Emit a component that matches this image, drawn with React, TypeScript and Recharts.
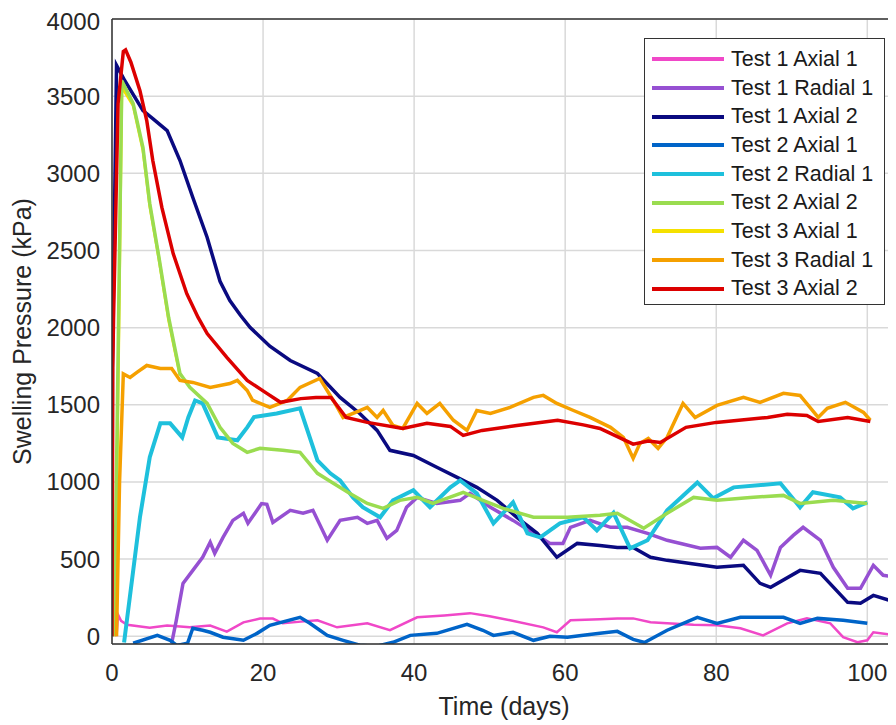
import React from 'react';
import { LineChart, Line, XAxis, YAxis, CartesianGrid, Legend, ReferenceLine } from 'recharts';

// [day, kPa] pairs
const test1Axial1 = [[0.6,0],[0.8,140],[1.2,100],[2,75],[5,55],[7.3,70],[10.3,58],[13,70],[15.2,30],[17.4,90],[19.6,115],[21.3,115],[22.6,84],[25,95],[27.2,104],[29.8,58],[33.8,84],[36.8,40],[40.4,123],[44,135],[47.4,150],[50,130],[52.7,104],[57.1,58],[58.9,26],[60.7,104],[64.6,110],[66.9,116],[69,116],[71.3,91],[73.5,84],[77,75],[80.1,71],[83.2,52],[86.2,6],[89.4,84],[92,116],[95.1,84],[96.8,-6],[98.7,-39],[100,-26],[100.8,26],[103.8,6]];
const test1Radial1 = [[7.9,-45],[8.5,100],[9.4,343],[10.7,427],[12,512],[13,609],[13.6,538],[14.7,641],[16,751],[17.4,797],[18,732],[19.2,816],[19.8,860],[20.5,855],[21.3,738],[23.6,816],[25.3,797],[26.6,816],[28.5,622],[30.2,751],[32.5,771],[33.8,732],[35.1,751],[36.4,635],[37.7,686],[39,836],[40.4,900],[43,861],[46.1,881],[47.4,926],[50.1,836],[53.1,751],[55.8,667],[58,602],[59.7,602],[60.7,706],[63.3,751],[66,706],[68.2,706],[70.9,667],[73.5,622],[77.9,570],[80.1,576],[81.9,512],[83.6,622],[85.4,557],[87.2,395],[88.5,576],[90.2,654],[91.5,706],[93.8,622],[95.5,447],[97.4,311],[99.1,311],[100.8,460],[102.1,395],[103.8,382]];
const test1Axial2 = [[0,0],[0.05,1740],[0.6,3700],[1.7,3600],[4.1,3406],[5.4,3355],[7.3,3277],[9,3083],[10.7,2843],[12.6,2584],[14.3,2300],[15.6,2176],[17,2080],[18.3,2001],[20.9,1880],[23.6,1787],[27.2,1703],[30.2,1548],[32.8,1444],[35.1,1334],[36.8,1205],[39.9,1172],[43,1095],[45.7,1030],[48.3,965],[51,881],[53.6,771],[56.3,667],[58.9,512],[61.6,602],[64.6,589],[66.9,576],[69,576],[71.3,512],[73.5,492],[80.1,447],[83.6,460],[85.8,343],[87.2,317],[91.1,427],[93.8,408],[97.4,220],[99.1,214],[100.8,265],[103.8,220]];
const test2Axial1 = [[2.8,-45],[6,6],[7.7,-26],[8.6,-60],[10,-45],[10.7,52],[12,39],[13,26],[14.7,-6],[17.4,-26],[19.2,19],[20.9,71],[24.9,123],[26.2,84],[28.5,6],[30.6,-26],[32.8,-58],[35,-65],[37.2,-39],[39.5,6],[43,19],[47,78],[49.1,39],[50.5,6],[53.1,26],[55.8,-26],[58,0],[60.3,-6],[62.4,6],[64.6,19],[66.9,32],[69,-20],[70.5,-40],[73.5,39],[77.5,123],[80.1,84],[83.2,123],[88.9,123],[91.1,84],[93.4,116],[96.8,104],[100,84]];
const test2Radial1 = [[1.6,-40],[3.7,771],[5,1160],[6.4,1380],[7.7,1380],[9.3,1289],[10.1,1418],[11,1528],[12,1509],[14,1289],[16.6,1270],[17.9,1354],[18.8,1420],[21.8,1444],[24.9,1477],[27.2,1140],[28.9,1056],[30.2,1010],[31.9,900],[33.2,836],[35.5,771],[37.2,881],[39.9,946],[42.1,836],[44.8,965],[46.1,1010],[48.3,926],[50.5,732],[53.1,868],[55,667],[56.7,641],[59.3,732],[62.4,771],[64.2,686],[66.4,800],[68.6,570],[70.9,622],[73.5,816],[77.5,997],[79.6,894],[82.3,965],[88.5,991],[91.1,836],[92.8,933],[96.4,900],[98.1,829],[100,868]];
const test2Axial2 = [[0.3,0],[1.3,3600],[2.8,3452],[4.1,3167],[5,2804],[6.2,2460],[7.5,2066],[9,1703],[10.3,1613],[12.6,1509],[14.3,1354],[16,1250],[17.9,1192],[19.6,1218],[22.6,1205],[24.9,1192],[27.2,1056],[29.3,991],[31.5,926],[33.8,861],[35.9,829],[38.1,881],[40.4,900],[42.5,861],[46.5,933],[49.1,881],[51.8,829],[55.8,771],[60.3,771],[64.6,784],[66.9,797],[70.4,700],[73.5,797],[77,900],[80.1,881],[84.5,900],[88.9,913],[91.1,861],[95.5,881],[100,861]];
const test3Axial1 = [[0.4,0],[1.3,3560],[2.8,3440],[4.1,3150],[5,2790],[6.2,2450],[7.5,2050],[9,1690]];
const test3Radial1 = [[0.6,0],[1.0,1000],[1.5,1700],[2.4,1677],[3.3,1710],[4.6,1755],[6.4,1736],[7.9,1736],[9,1658],[10.7,1645],[13,1613],[15.6,1638],[16.6,1658],[17.9,1593],[18.6,1530],[20.9,1483],[23.2,1528],[24.9,1613],[27.5,1671],[29.3,1528],[30.6,1418],[32.8,1463],[33.8,1483],[35.1,1418],[35.9,1463],[37.2,1366],[38.5,1347],[40.4,1509],[41.7,1444],[43.4,1509],[45.2,1400],[47,1334],[48.3,1463],[50.1,1444],[52.7,1483],[55.8,1548],[57.1,1561],[58.9,1509],[61.1,1463],[63.3,1418],[66,1354],[67.7,1289],[69,1153],[69.9,1250],[71,1282],[72.3,1218],[73.5,1289],[75.6,1509],[77.2,1418],[80.1,1496],[83.6,1548],[85.8,1516],[88.9,1574],[91.1,1561],[93.5,1418],[94.7,1477],[97.1,1516],[99.5,1451],[100.4,1400]];
const test3Axial2 = [[0,0],[0.1,1740],[0.2,2050],[0.8,3450],[1.5,3790],[1.8,3800],[2.5,3720],[3.7,3536],[4.6,3342],[5.4,3083],[6.6,2779],[8.1,2480],[9.9,2220],[11.4,2066],[12.6,1962],[15.2,1807],[17.9,1658],[20.5,1574],[22.3,1516],[25,1540],[27,1548],[29,1548],[31,1418],[33.8,1386],[38.5,1347],[41.7,1380],[44.8,1360],[46.5,1302],[49,1334],[53.6,1366],[59,1400],[62.4,1370],[64.6,1347],[66,1315],[69,1245],[71,1265],[72.6,1256],[76,1354],[80,1386],[86.8,1418],[89.4,1438],[92,1431],[93.5,1392],[97.4,1418],[100.4,1392]];

const xTicks = [0, 20, 40, 60, 80, 100];
const yTicks = [0, 500, 1000, 1500, 2000, 2500, 3000, 3500, 4000];

const series = [
  { name: 'Test 1 Axial 1', color: '#F048C8', width: 2.5, pts: test1Axial1 },
  { name: 'Test 1 Radial 1', color: '#9650D2', width: 3.5, pts: test1Radial1 },
  { name: 'Test 1 Axial 2', color: '#0A0A80', width: 3.5, pts: test1Axial2 },
  { name: 'Test 2 Axial 1', color: '#0064C8', width: 3.5, pts: test2Axial1 },
  { name: 'Test 2 Radial 1', color: '#1EC0DC', width: 4, pts: test2Radial1 },
  { name: 'Test 2 Axial 2', color: '#9ADC50', width: 3.5, pts: test2Axial2 },
  { name: 'Test 3 Axial 1', color: '#F5E100', width: 3, pts: test3Axial1 },
  { name: 'Test 3 Radial 1', color: '#F5A000', width: 3.5, pts: test3Radial1 },
  { name: 'Test 3 Axial 2', color: '#DC0000', width: 3.5, pts: test3Axial2 },
];

// yellow drawn first so it sits underneath like in the figure
const drawOrder = [6, 0, 1, 2, 3, 4, 5, 7, 8];

const font = '"Liberation Sans", Arial, sans-serif';
const textColor = '#262626';

const LegendBox = () => (
  <div style={{ border: '1.5px solid #333', background: '#fff', padding: '6px 0 6px 7px', fontFamily: font, boxSizing: 'border-box', width: 241, height: 267 }}>
    {series.map(s => (
      <div key={s.name} style={{ display: 'flex', alignItems: 'center', height: 28.7, whiteSpace: 'nowrap' }}>
        <div style={{ width: 72, height: 4, background: s.color, marginRight: 7, flexShrink: 0 }} />
        <span style={{ fontSize: 21.5, color: '#1a1a1a' }}>{s.name}</span>
      </div>
    ))}
  </div>
);

const YLabel = ({ viewBox }: any) => {
  const cx = 14;
  const cy = viewBox.y + viewBox.height / 2;
  return (
    <text x={cx} y={cy} transform={`rotate(-90 ${cx} ${cy})`} textAnchor="middle" dominantBaseline="central"
      fontSize={25} fontFamily={font} fill={textColor}>
      Swelling Pressure (kPa)
    </text>
  );
};

export default function App() {
  return (
    <LineChart width={888} height={717} margin={{ top: 11, right: 0, left: 0, bottom: 0 }}>
      <CartesianGrid stroke="#d9d9d9" strokeWidth={1.5} />
      <XAxis type="number" dataKey="d" domain={[0, 103.8]} ticks={xTicks} allowDataOverflow height={81}
        tickLine={false} tickSize={0} tickMargin={20} axisLine={{ stroke: '#333', strokeWidth: 1.5 }}
        tick={{ fontSize: 24, fontFamily: font, fill: textColor }}
        label={{ value: 'Time (days)', position: 'insideBottom', offset: 10, fontSize: 25, fontFamily: font, fill: textColor }} />
      <YAxis type="number" domain={[-50, 4000]} ticks={yTicks} allowDataOverflow width={104}
        tickLine={false} tickSize={0} tickMargin={12} axisLine={{ stroke: '#333', strokeWidth: 1.5 }}
        tick={{ fontSize: 24, fontFamily: font, fill: textColor }}
        label={<YLabel />} />
      <ReferenceLine y={4000} stroke="#333" strokeWidth={1.5} />
      {drawOrder.map(i => {
        const s = series[i];
        return (
          <Line key={s.name} data={s.pts.map(([d, v]) => ({ d, v }))} dataKey="v" name={s.name}
            type="linear" stroke={s.color} strokeWidth={s.width} dot={false} activeDot={false}
            isAnimationActive={false} />
        );
      })}
      <Legend layout="vertical" align="center" verticalAlign="middle" content={<LegendBox />}
        wrapperStyle={{ left: 636, top: 30, width: 241, height: 267 }} />
    </LineChart>
  );
}
